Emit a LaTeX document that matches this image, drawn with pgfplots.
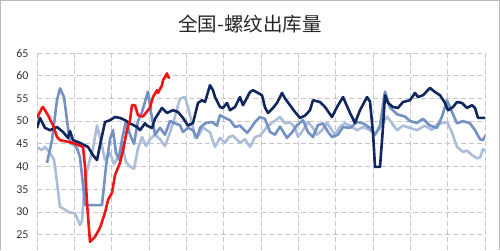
\documentclass[border=0pt]{standalone}
\usepackage{pgfplots}
\pgfplotsset{compat=1.18}
\usepackage{fontspec}
\setmainfont{Carlito}
\newfontfamily\cjk{Noto Sans CJK SC}
\definecolor{navy}{HTML}{10265E}
\definecolor{medb}{HTML}{7391C4}
\definecolor{lightb}{HTML}{ABBDD8}
\definecolor{redl}{HTML}{F01414}
\begin{document}
\begin{tikzpicture}
\useasboundingbox (0,0) rectangle (500pt,250pt);
\draw[gray!55, line width=1pt] (0.5pt,0) -- (0.5pt,249.5pt) -- (499.5pt,249.5pt) -- (499.5pt,0);
\node[font=\cjk\fontsize{19.5}{22}\selectfont, text=black!85] at (250pt,226pt) {全国-螺纹出库量};
\begin{axis}[
  at={(37pt,0pt)}, anchor=south west,
  width=448pt, height=197pt, scale only axis,
  xmin=37, xmax=485, ymin=21.6, ymax=65,
  xtick={37,74.33,111.67,149,186.33,223.67,261,298.33,335.67,373,410.33,447.67,485},
  xticklabels={},
  ytick={25,30,35,40,45,50,55,60,65},
  grid=major,
  major grid style={gray!45, dash pattern=on 5pt off 3pt, line width=0.6pt},
  axis line style={draw=none},
  major tick length=0pt,
  yticklabel style={font=\fontsize{12}{13}\selectfont, text=black!80, anchor=east, xshift=-5pt},
  /pgf/number format/assume math mode=true,
  line join=round,
]
% light blue
\addplot[lightb, line width=2.6pt] coordinates {
(37,44.3)(42,43.6)(45,44.3)(50,43)(54,41.5)(57,36.5)(60,31.1)(65,30.5)(69,29.9)(75,29.7)(80,27.1)(82,28)(85,37)(89,40.8)(93,44)(97,49)(101,45.5)(105,41.4)(110,43)(114,40.5)(118,42)(122,45)(126,41)(130,40)(134,39.5)(138,44)(142,46.5)(146,44.5)(150,46)(155,47)(160,46)(165,44.5)(170,47.5)(175,51)(180,55)(185,55.3)(188,53)(192,49.6)(195,46.3)(199,47)(203,48.6)(210,47.5)(215,44.3)(220,46.3)(225,45.2)(229,46.5)(233,46.8)(240,45.2)(245,46)(250,44.3)(255,46.5)(260,46.8)(267,48.7)(273,49.8)(280,50.9)(285,49.5)(290,49.8)(295,48.5)(298,46.5)(303,48)(308,49.8)(313,48.5)(317,47)(322,48)(327,49.6)(331,48.3)(335,47)(340,48.8)(345,49.5)(350,49)(357,48)(363,48.7)(370,48)(375,47)(380,48.5)(387,51)(397,48)(403,49)(410,48.5)(417,48)(425,49)(432,48)(437,49.3)(447,49.8)(452,47.5)(457,44.3)(463,43.2)(467,43.5)(472,42.5)(477,41.8)(480,42)(483,43.8)(486,43.5)
};
% medium blue
\addplot[medb, line width=2.6pt] coordinates {
(47,40.8)(52,45.8)(57,54.6)(60,57.2)(64,55.3)(67,50.2)(70,45.2)(74,44.8)(77,44)(80,42)(83,36)(85,31.5)(102,31.5)(106,40)(110,46)(113,48)(116,43)(119,41.5)(122,46)(126,50)(130,47)(134,45)(138,50)(142,52)(146,55)(148,56.5)(151,52)(155,47)(160,48.5)(165,47)(170,50)(175,49.5)(180,49.1)(183,47.6)(188,48.5)(193,48)(197,46.3)(200,48.5)(205,49.5)(212,49.8)(217,49)(220,51.3)(225,50.7)(230,50.2)(235,48.7)(240,49)(247,47.4)(251,48.5)(255,49.8)(260,50.9)(265,50.5)(270,47.6)(275,47)(280,48.8)(287,46.3)(292,47.5)(297,49.1)(303,50.2)(308,47.6)(313,46.5)(318,49.1)(323,49.5)(328,47.6)(332,46.5)(338,47)(343,48.7)(350,48.5)(357,49.8)(363,49.5)(370,48.5)(375,47)(380,49)(385,56.5)(390,53)(397,51.5)(405,51)(410,50)(417,49.6)(423,50.5)(430,49)(437,48.5)(442,51)(447,54.6)(452,52)(457,49.5)(463,50)(470,49.5)(475,48)(480,46)(483,45.8)(486,47)
};
% navy
\addplot[navy, line width=2.6pt] coordinates {
(37,48.5)(40,50.7)(45,48.5)(50,48)(57,48.7)(63,47.6)(68,46.3)(70,47.8)(73,45.8)(80,45.2)(88,44.3)(93,42.5)(97,41.4)(100,44.7)(105,49.8)(110,50.2)(115,50.9)(120,50.7)(125,50.2)(130,49.5)(137,48.7)(140,48)(145,49.5)(147,49)(152,48.5)(155,50.5)(162,52.9)(167,51.8)(173,52.4)(178,52)(183,50.7)(188,49)(193,49.6)(198,54)(202,54.6)(205,54.2)(208,56.4)(210,57.9)(213,56.8)(215,55.3)(220,53.1)(223,52.9)(227,54)(230,52.4)(235,53.1)(240,55.3)(243,53.5)(250,56.4)(253,56.8)(258,56.2)(262,55.7)(265,53)(268,51.8)(273,52.9)(277,54)(282,56.2)(285,55)(290,53.5)(295,52)(300,50.7)(305,51.2)(310,52.4)(313,54.6)(320,54.2)(325,53.1)(332,50.9)(337,53.1)(343,55.3)(350,51.8)(355,49.6)(360,52.4)(367,55.3)(370,54.3)(373,47.4)(375,39.9)(380,39.9)(383,48.7)(385,55.7)(388,54)(393,53.1)(398,52.9)(403,54.2)(410,54.6)(415,56.2)(418,55.3)(423,55.7)(430,57.3)(435,56.4)(440,55.7)(445,54)(448,52.4)(453,53.1)(457,54.2)(462,54)(467,52.9)(472,53.5)(475,52.9)(478,50.7)(485,50.7)
};
% red
\addplot[redl, line width=2.6pt] coordinates {
(37,50.7)(42,52.9)(43,53.1)(48,51.3)(53,49.1)(57,46.5)(60,45.8)(73,45.2)(83,44.3)(85,40)(87,32)(90,23.4)(95,24.5)(100,26.5)(105,29.8)(108,32.6)(112,34.2)(115,38.1)(120,40.8)(123,43.6)(127,48)(130,50.2)(132,53.5)(135,53.5)(138,51.3)(143,51)(148,52.4)(150,53)(153,55.3)(157,56.8)(158,56.2)(162,57.9)(163,59)(165,59.7)(167,60.5)(168,59.7)(170,59.5)
};
\end{axis}
\end{tikzpicture}
\end{document}
